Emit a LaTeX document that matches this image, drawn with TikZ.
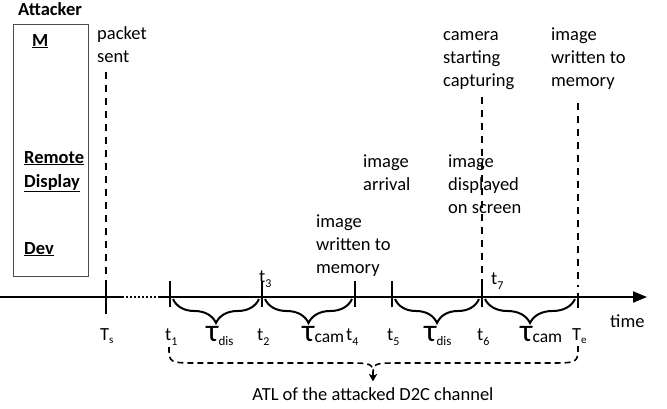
\documentclass[tikz,border=0pt]{standalone}
\usepackage{fontspec}
\setmainfont{Carlito}
\usetikzlibrary{arrows.meta,decorations.pathreplacing}
\newcommand\tl[2]{t\raisebox{-5pt}{\fontsize{12}{12}\selectfont #2}}
\newcommand\Tl[1]{T\raisebox{-3pt}{\fontsize{11}{11}\selectfont #1}}
\newcommand\taudis{{\fontsize{32}{32}\selectfont τ}\raisebox{-4pt}{\fontsize{13}{13}\selectfont dis}}
\newcommand\taucam{{\fontsize{32}{32}\selectfont τ}\raisebox{-1pt}{\fontsize{17.5}{17.5}\selectfont cam}}
\begin{document}
\begin{tikzpicture}[x=1pt,y=-1pt,
  txt/.style={anchor=base west, inner sep=0, align=left, font=\fontsize{18.5}{23}\selectfont},
  btxt/.style={txt, font=\fontsize{18.5}{24}\selectfont\bfseries},
  dl/.style={line width=2pt, dash pattern=on 7pt off 6pt},
  ax/.style={line width=2pt},
  tick/.style={line width=2pt},
  br/.style={line width=2pt, decorate, decoration={brace, mirror, amplitude=24pt}},
  atl/.style={line width=1.6pt, dash pattern=on 6pt off 4pt, -{Stealth[length=7pt,width=8pt]}}]
\useasboundingbox (0,0) rectangle (667,408);

% attacker box
\node[draw=black!70, line width=1pt, minimum width=75pt, minimum height=252pt, inner sep=0] (box) at (50.5,150) {};
\node[btxt] (att) at (18,15) {Attacker};
\node[btxt] (m) at (32,46) {\underline{M}};
\node[btxt] (rd) at (24,187) {\underline{Remote}\\\underline{Display}};
\node[btxt] (dev) at (24,254) {\underline{Dev}};

% event texts (anchor = baseline of last line)
\node[txt] (packet) at (97,62) {packet\\sent};
\node[txt] (cam) at (443,86) {camera\\starting\\capturing};
\node[txt] (mem2) at (551,86) {image\\written to\\memory};
\node[txt] (arr) at (363,190) {image\\arrival};
\node[txt] (disp) at (448,213) {image\\displayed\\on screen};
\node[txt] (mem1) at (316,273) {image\\written to\\memory};

% coordinates
\coordinate (Ts) at (106,297);
\coordinate (t1) at (170,297);
\coordinate (t2) at (262,297);
\coordinate (t4) at (355,297);
\coordinate (t5) at (392,297);
\coordinate (t6) at (482,297);
\coordinate (Te) at (578,297);

% dashed verticals
\draw[dl] (106,72) -- (106,283);
\draw[dl] (482,97) -- (482,287);
\draw[dl] (578,103) -- (578,287);
\draw[dl] (578,301) -- (578,313);

% axis
\coordinate (a0) at (0,297);
\coordinate (a1) at (122,297);
\coordinate (a2) at (158,297);
\coordinate (a3) at (647,297);
\draw[ax] (a0) -- (a1);
\draw[line width=2pt, dash pattern=on 2pt off 2pt] (a1) -- (a2);
\draw[ax, -{Triangle[length=14pt,width=11pt]}] (a2) -- (a3);

% ticks
\draw[tick] ([yshift=-17pt]Ts) -- ([yshift=16pt]Ts);
\foreach \c in {t1,t2,t4,t5,t6} \draw[tick] ([yshift=-10pt]\c) -- ([yshift=16pt]\c);
\draw[tick] ([yshift=-10pt]Te) -- ([yshift=4pt]Te);

% braces
\draw[br] (173,299) -- (259,299);
\draw[br] (265,299) -- (352,299);
\draw[br] (395,299) -- (479,299);
\draw[br] (485,299) -- (575,299);

% labels
\node[txt] (lTs) at (100,340) {\Tl{s}};
\node[txt] (lt1) at (165,340) {\tl{}{1}};
\node[txt] (lt2) at (257,340) {\tl{}{2}};
\node[txt] (lt3) at (259,282) {\tl{}{3}};
\node[txt] (lt4) at (346,340) {\tl{}{4}};
\node[txt] (lt5) at (387,340) {\tl{}{5}};
\node[txt] (lt6) at (477,340) {\tl{}{6}};
\node[txt] (lt7) at (491,284) {\tl{}{7}};
\node[txt] (lTe) at (572,340) {\Tl{e}};
\node[txt] (td1) at (206,341) {\taudis};
\node[txt] (tc1) at (302,341) {\taucam};
\node[txt] (td2) at (424,341) {\taudis};
\node[txt] (tc2) at (520,341) {\taucam};
\node[txt] (time) at (610,327) {time};

% ATL curve
\node[txt, anchor=base] (atlt) at (373,400) {ATL of the attacked D2C channel};
\coordinate (tip) at (373,381);
\coordinate (sL) at (169,347);
\coordinate (sR) at (578,346);
\draw[atl] (sL) .. controls (169,363) .. (200,363) -- (345,363) .. controls (373,363) .. (tip);
\draw[atl] (sR) .. controls (578,363) .. (548,363) -- (400,363) .. controls (373,363) .. (tip);
\end{tikzpicture}
\end{document}
